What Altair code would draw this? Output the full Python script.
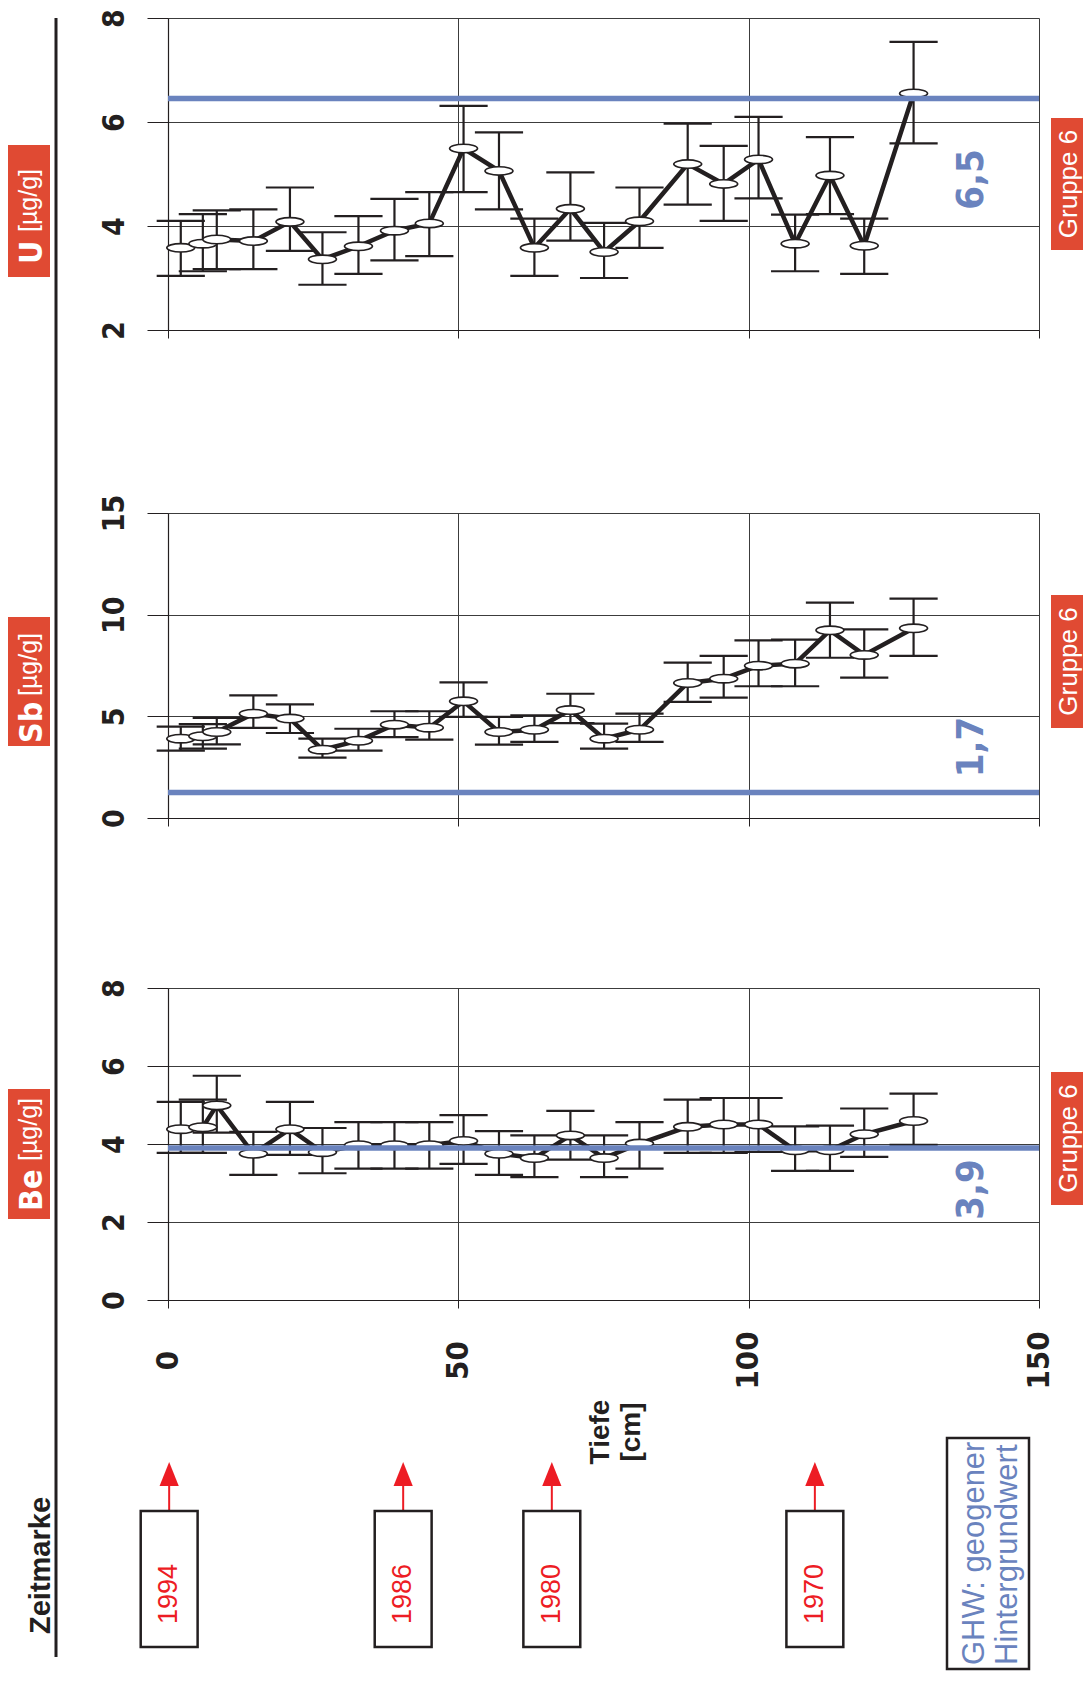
import altair as alt
import pandas as pd

# ---------------- data ----------------
depth = [2.2, 6.0, 8.4, 14.7, 21.0, 26.6, 32.8, 39.0, 45.0, 50.9, 57.0,
         63.1, 69.3, 75.1, 81.2, 89.5, 95.7, 101.7, 108.0, 114.0, 119.9, 128.4]

u_mean = [3.58, 3.66, 3.74, 3.71, 4.08, 3.36, 3.61, 3.91, 4.05, 5.49, 5.06,
          3.58, 4.33, 3.50, 4.09, 5.19, 4.81, 5.28, 3.66, 4.97, 3.62, 6.55]
u_low = [3.04, 3.13, 3.17, 3.17, 3.52, 2.87, 3.08, 3.34, 3.42, 4.65, 4.32,
         3.04, 3.72, 3.00, 3.58, 4.41, 4.10, 4.53, 3.13, 4.23, 3.08, 5.59]
u_high = [4.10, 4.23, 4.30, 4.32, 4.74, 3.88, 4.19, 4.52, 4.65, 6.31, 5.80,
          4.14, 5.03, 4.06, 4.74, 5.97, 5.54, 6.10, 4.22, 5.71, 4.14, 7.54]

sb_mean = [3.90, 4.02, 4.23, 5.13, 4.89, 3.36, 3.80, 4.59, 4.44, 5.74, 4.23,
           4.34, 5.31, 3.90, 4.34, 6.64, 6.85, 7.49, 7.59, 9.23, 8.02, 9.33]
sb_low = [3.31, 3.41, 3.62, 4.43, 4.18, 2.97, 3.31, 3.98, 3.85, 4.97, 3.61,
          3.74, 4.67, 3.41, 3.74, 5.71, 5.92, 6.48, 6.48, 7.88, 6.90, 7.97]
sb_high = [4.49, 4.62, 4.92, 6.03, 5.59, 3.90, 4.39, 5.25, 5.25, 6.67, 4.97,
           5.05, 6.11, 4.64, 5.13, 7.64, 7.97, 8.74, 8.77, 10.59, 9.28, 10.79]

be_mean = [4.38, 4.43, 4.99, 3.75, 4.38, 3.79, 3.97, 3.97, 3.97, 4.08, 3.75,
           3.64, 4.22, 3.64, 4.01, 4.44, 4.50, 4.50, 3.84, 3.84, 4.25, 4.59]
be_low = [3.77, 3.77, 4.29, 3.21, 3.72, 3.25, 3.37, 3.37, 3.37, 3.49, 3.21,
          3.15, 3.60, 3.15, 3.37, 3.77, 3.77, 3.80, 3.31, 3.31, 3.67, 3.98]
be_high = [5.08, 5.14, 5.75, 4.31, 5.08, 4.41, 4.56, 4.56, 4.56, 4.74, 4.33,
           4.22, 4.85, 4.22, 4.56, 5.14, 5.18, 5.18, 4.45, 4.47, 4.91, 5.29]

ghw_values = [6.45, 1.25, 3.9]
ghw_texts = ["6,5", "1,7", "3,9"]
elements = ["U", "Sb", "Be"]
unit_text = "[µg/g]"
group_text = "Gruppe 6"

depth_ticks = [0, 50, 100, 150]
u_ticks = [2, 4, 6, 8]
sb_ticks = [0, 5, 10, 15]
be_ticks = [0, 2, 4, 6, 8]

years = ["1994", "1986", "1980", "1970"]
year_depth = [0.2, 40.5, 66.1, 111.4]

# ---------------- style ----------------
INK = "#231f20"
GRID = "#3c3c3c"
RED_BOX = "#e04a33"
BLUE = "#6a83be"
RED = "#ed1c24"
NARROW = "Liberation Sans Narrow, DejaVu Sans Condensed, Liberation Sans"
SANS = "Liberation Sans, Arial, sans-serif"

ELLIPSE = "M -1 0 A 1 0.3 0 1 0 1 0 A 1 0.3 0 1 0 -1 0 Z"
ARROW = "M 0 -1 L 0.8 1 L -0.8 1 Z"

PLOT_W = 871
xscale = alt.Scale(domain=[0, 150], nice=False, zero=False)


def x_axis(show_labels):
    return alt.Axis(values=depth_ticks, title="", grid=True, gridColor=GRID,
                    gridWidth=1, domainColor=INK, domainWidth=1.2,
                    tickColor=INK, tickSize=8, tickWidth=1,
                    labels=show_labels, labelAngle=270, labelAlign="center",
                    labelBaseline="middle", labelPadding=52,
                    labelFont=NARROW, labelFontWeight="bold",
                    labelFontSize=31, labelColor=INK, labelFlush=False,
                    labelOverlap=False)


def y_axis(ticks):
    return alt.Axis(values=ticks, title="", grid=True, gridColor=GRID,
                    gridWidth=1, domainColor=INK, domainWidth=1.2,
                    tickColor=INK, tickSize=21, tickWidth=1,
                    labelAngle=270, labelAlign="center",
                    labelBaseline="bottom", labelPadding=18,
                    labelFont=NARROW, labelFontWeight="bold",
                    labelFontSize=30, labelColor=INK, labelFlush=False,
                    labelOverlap=False)


def one_row():
    return alt.Chart(pd.DataFrame({"k": [0]}))


def panel(mean, low, high, ydom, yticks, height, ghw, ghw_txt, ghw_y,
          grp_y, box_y, sym, sym_y, unit_y, show_labels, extra=None):
    yscale = alt.Scale(domain=ydom, nice=False, zero=False)
    xa = x_axis(show_labels)
    ya = y_axis(yticks)
    df = pd.DataFrame({"depth": depth, "mean": mean, "low": low, "high": high})
    base = alt.Chart(df).transform_calculate(
        cl="datum.depth - 4.15", cr="datum.depth + 4.15")

    bars = base.mark_rule(color=INK, strokeWidth=2.2).encode(
        x=alt.X("depth:Q", scale=xscale, axis=xa),
        y=alt.Y("low:Q", scale=yscale, axis=ya),
        y2="high:Q")
    cap_lo = base.mark_rule(color=INK, strokeWidth=2.2).encode(
        x=alt.X("cl:Q", scale=xscale, axis=xa), x2="cr:Q",
        y=alt.Y("low:Q", scale=yscale, axis=ya))
    cap_hi = base.mark_rule(color=INK, strokeWidth=2.2).encode(
        x=alt.X("cl:Q", scale=xscale, axis=xa), x2="cr:Q",
        y=alt.Y("high:Q", scale=yscale, axis=ya))
    line = base.mark_line(color=INK, strokeWidth=4.5).encode(
        x=alt.X("depth:Q", scale=xscale, axis=xa),
        y=alt.Y("mean:Q", scale=yscale, axis=ya))
    pts = base.mark_point(shape=ELLIPSE, size=784, filled=True, fill="white",
                          stroke=INK, strokeWidth=1.6, opacity=1).encode(
        x=alt.X("depth:Q", scale=xscale, axis=xa),
        y=alt.Y("mean:Q", scale=yscale, axis=ya))
    ghw_rule = one_row().transform_calculate(v=str(ghw)).mark_rule(
        color=BLUE, strokeWidth=5.5).encode(
        y=alt.Y("v:Q", scale=yscale, axis=ya))
    ghw_lab = one_row().mark_text(text=ghw_txt, angle=270, align="center",
                                  baseline="alphabetic", font=NARROW,
                                  fontWeight="bold", fontSize=38,
                                  color=BLUE).encode(
        x=alt.value(815), y=alt.value(ghw_y))
    grp_box = one_row().mark_rect(color=RED_BOX).encode(
        x=alt.value(883), x2=alt.value(915),
        y=alt.value(grp_y[0]), y2=alt.value(grp_y[1]))
    grp_txt = one_row().mark_text(text=group_text, angle=270, align="center",
                                  baseline="alphabetic", font=SANS,
                                  fontSize=26, color="white").encode(
        x=alt.value(909), y=alt.value((grp_y[0] + grp_y[1]) / 2))
    title_box = one_row().mark_rect(color=RED_BOX).encode(
        x=alt.value(-160), x2=alt.value(-118),
        y=alt.value(box_y[0]), y2=alt.value(box_y[1]))
    sym_txt = one_row().mark_text(text=sym, angle=270, align="left",
                                  baseline="alphabetic", font=NARROW,
                                  fontWeight="bold", fontSize=32,
                                  color="white").encode(
        x=alt.value(-126), y=alt.value(sym_y))
    unit_txt = one_row().mark_text(text=unit_text, angle=270, align="left",
                                   baseline="alphabetic", font=SANS,
                                   fontSize=25, color="white").encode(
        x=alt.value(-131), y=alt.value(unit_y))

    layers = [bars, cap_lo, cap_hi, line, pts, ghw_rule, ghw_lab,
              grp_box, grp_txt, title_box, sym_txt, unit_txt]
    if extra:
        layers += extra
    return alt.layer(*layers).properties(width=PLOT_W, height=height)


# U panel extra: long vertical rule on the far left
vline = one_row().mark_rule(color=INK, strokeWidth=3).encode(
    x=alt.value(-112), y=alt.value(0), y2=alt.value(1639))

# Be panel extras: time markers and legend box
bxa = x_axis(True)
ydf = pd.DataFrame({"year": years, "yd": year_depth})
ybase = alt.Chart(ydf).transform_calculate(bl="datum.yd - 4.9", br="datum.yd + 4.9")
year_box = ybase.mark_rect(fill="white", stroke=INK, strokeWidth=2.5).encode(
    x=alt.X("bl:Q", scale=xscale, axis=bxa), x2="br:Q",
    y=alt.value(523), y2=alt.value(659))
year_txt = ybase.mark_text(angle=270, align="center", baseline="middle",
                           font=SANS, fontSize=27, color=RED).encode(
    x=alt.X("yd:Q", scale=xscale, axis=bxa), y=alt.value(606),
    text="year:N")
arrow_shaft = ybase.mark_rule(color=RED, strokeWidth=2).encode(
    x=alt.X("yd:Q", scale=xscale, axis=bxa),
    y=alt.value(496), y2=alt.value(523))
arrow_head = ybase.mark_point(shape=ARROW, size=576, filled=True, color=RED,
                              opacity=1).encode(
    x=alt.X("yd:Q", scale=xscale, axis=bxa), y=alt.value(486))
zeit = one_row().mark_text(text="Zeitmarke", angle=270, align="left",
                           baseline="alphabetic", font=SANS, fontWeight="bold",
                           fontSize=29, color=INK).encode(
    x=alt.value(-118), y=alt.value(646))
tiefe = one_row().mark_text(text=["Tiefe", "[cm]"], angle=270, align="center",
                            baseline="alphabetic", font=SANS, fontWeight="bold",
                            fontSize=28, lineHeight=31, color=INK).encode(
    x=alt.value(441), y=alt.value(444))
ghw_box = one_row().mark_rect(fill="white", stroke=INK, strokeWidth=2.5).encode(
    x=alt.value(779), x2=alt.value(861), y=alt.value(450), y2=alt.value(681))
ghw_txt = one_row().mark_text(text=["GHW: geogener", "Hintergrundwert"],
                              angle=270, align="left", baseline="alphabetic",
                              font=SANS, fontSize=31, lineHeight=33,
                              color=BLUE).encode(
    x=alt.value(816), y=alt.value(677))

u_panel = panel(u_mean, u_low, u_high, [2, 8], u_ticks, 312, ghw_values[0],
                ghw_texts[0], 161.5, (100, 232), (127, 259), elements[0], 246,
                214, False, extra=[vline])
sb_panel = panel(sb_mean, sb_low, sb_high, [0, 15], sb_ticks, 305,
                 ghw_values[1], ghw_texts[1], 234, (82, 215), (104, 233),
                 elements[1], 230, 183, False)
be_panel = panel(be_mean, be_low, be_high, [0, 8], be_ticks, 312,
                 ghw_values[2], ghw_texts[2], 201.5, (84, 217), (101, 231),
                 elements[2], 223, 173, True,
                 extra=[arrow_shaft, arrow_head, year_box, year_txt, zeit,
                        tiefe, ghw_box, ghw_txt])

lower = alt.vconcat(sb_panel, be_panel, spacing=170, bounds="flush")
chart = alt.vconcat(u_panel, lower, spacing=183, bounds="flush").properties(
    padding=0).configure_view(strokeWidth=0)

chart.save("out.html", embed_options={"renderer": "svg", "actions": False})
